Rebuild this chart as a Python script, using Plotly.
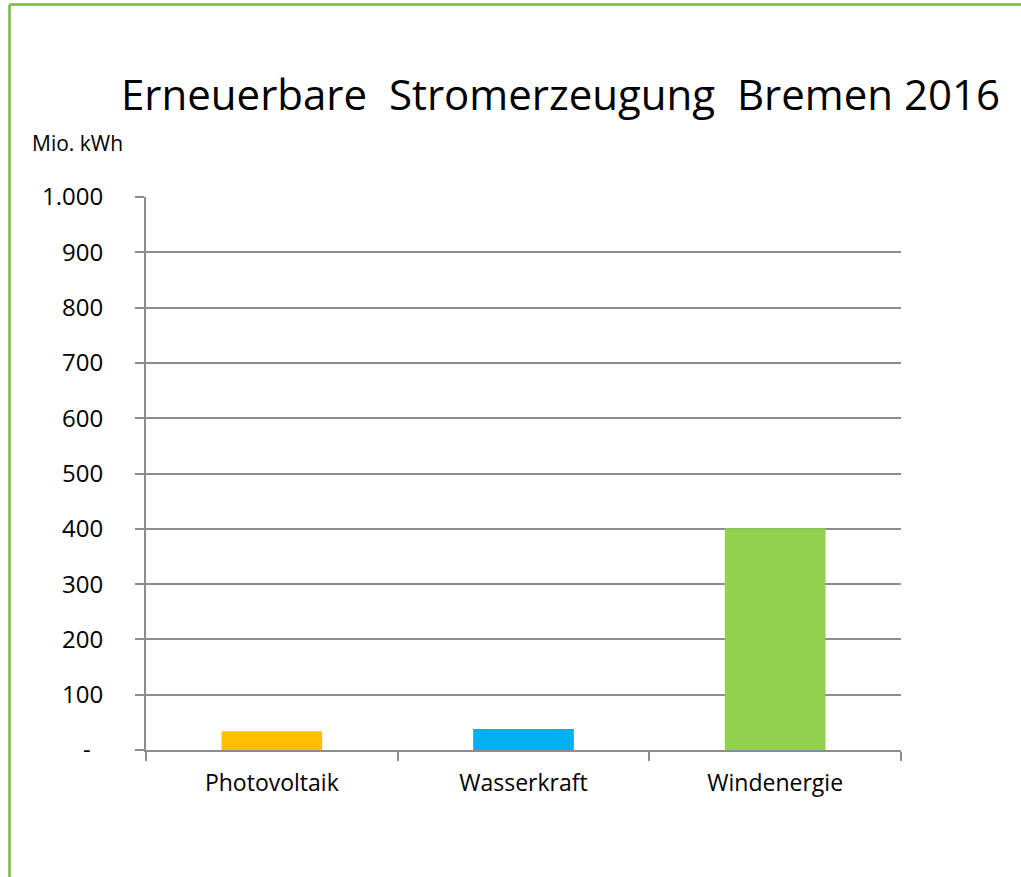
import plotly.graph_objects as go

categories = ["Photovoltaik", "Wasserkraft", "Windenergie"]
values = [34, 38, 401]
colors = ["#FFC000", "#00B0F0", "#92D050"]
tick_vals = [0, 100, 200, 300, 400, 500, 600, 700, 800, 900, 1000]
tick_text = ["-\u00a0\u00a0", "100", "200", "300", "400", "500", "600", "700", "800", "900", "1.000"]

FONT = "Open Sans"
GRID = "#8c8c8c"

fig = go.Figure()
fig.add_trace(go.Bar(x=categories, y=values, marker=dict(color=colors, line=dict(width=0)),
                     width=0.4, hoverinfo="x+y"))

fig.update_layout(
    width=1021, height=877, autosize=False,
    margin=dict(l=146, r=120, t=197, b=127, pad=0),
    paper_bgcolor="white", plot_bgcolor="white",
    showlegend=False,
    font=dict(family=FONT, color="#000000"),
    title=dict(text="Erneuerbare\u00a0 Stromerzeugung\u00a0 Bremen 2016",
               x=0.549, xanchor="center", y=1 - 95 / 877, yanchor="middle",
               font=dict(family=FONT, size=42, color="#000000")),
    annotations=[dict(text="Mio. kWh", xref="paper", yref="paper",
                      x=(30 - 146) / 755, xanchor="left",
                      y=1 + (197 - 143) / 552.7, yanchor="middle",
                      showarrow=False, font=dict(family=FONT, size=21, color="#000000"))],
    shapes=[
        dict(type="line", xref="paper", yref="paper", x0=(9.5 - 146) / 755, x1=(1030 - 146) / 755,
             y0=1 + (197 - 4.5) / 552.7, y1=1 + (197 - 4.5) / 552.7,
             line=dict(color="#77B843", width=2.5)),
        dict(type="line", xref="paper", yref="paper", x0=(9.5 - 146) / 755, x1=(9.5 - 146) / 755,
             y0=1 + (197 - 4.5) / 552.7, y1=1 - (890 - 197) / 552.7,
             line=dict(color="#77B843", width=2.5)),
    ],
    bargap=0.6,
)

fig.update_xaxes(showgrid=False, showline=True, linecolor=GRID, linewidth=2,
                 ticks="outside", tickson="boundaries", ticklen=9, tickcolor=GRID, tickwidth=2,
                 tickfont=dict(family=FONT, size=23, color="#000000"),
                 ticklabelstandoff=11)
fig.update_yaxes(range=[0, 1000], tickvals=tick_vals, ticktext=tick_text,
                 showgrid=True, gridcolor=GRID, gridwidth=2,
                 showline=True, linecolor=GRID, linewidth=2,
                 ticks="outside", ticklen=9, tickcolor=GRID, tickwidth=2,
                 zeroline=False,
                 tickfont=dict(family=FONT, size=24, color="#000000"),
                 ticklabelstandoff=27)

fig.write_html("out.html", config={"displayModeBar": False},
               post_script="document.body.style.margin='0';document.body.style.overflow='hidden';")
